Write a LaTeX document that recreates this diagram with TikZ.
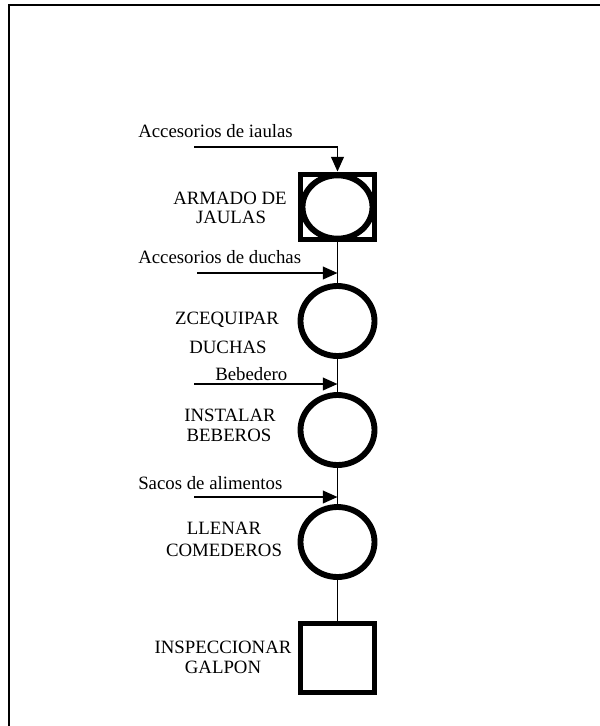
\documentclass[tikz,border=0pt]{standalone}
\usepackage{fontspec}
\setmainfont{Liberation Serif}
\usetikzlibrary{shapes.geometric,arrows.meta}
\begin{document}
\begin{tikzpicture}[x=0.75pt,y=-0.75pt,
  every node/.style={inner sep=0pt},
  lbl/.style={anchor=base,font=\fontsize{14.1}{17}\selectfont},
  lbll/.style={lbl,anchor=base west},
  sqbox/.style={draw,line width=4.4pt,rectangle,minimum width=55.5pt,minimum height=48.75pt},
  ring/.style={draw,line width=4.4pt,ellipse,minimum width=55.5pt,minimum height=52.5pt},
  innerring/.style={draw,line width=4.4pt,ellipse,minimum width=52.5pt,minimum height=47.5pt},
  link/.style={line width=1.4pt},
  feed/.style={line width=1.4pt,-{Triangle[length=11pt,width=9.5pt]}},
  frame/.style={line width=1.2pt}]
\useasboundingbox (0,0) rectangle (600,726);

% outer frame
\draw[frame] (9,726) -- (9,5) -- (600,5);

% operations
\node[sqbox] (s1) at (337.5,207) {};
\node[innerring] (c1) at (337.5,207) {};
\node[ring] (c2) at (337.5,321) {};
\node[ring] (c3) at (337.5,430) {};
\node[ring] (c4) at (337.5,542) {};
\node[sqbox,minimum height=51.75pt] (s2) at (337.5,658) {};

% flow line
\draw[link] (s1.south) -- (c2.north);
\draw[link] (c2.south) -- (c3.north);
\draw[link] (c3.south) -- (c4.north);
\draw[link] (c4.south) -- (s2.north);

% incoming materials
\coordinate (f1) at (194,147);
\coordinate (f2) at (197,273);
\coordinate (f3) at (194,384);
\coordinate (f4) at (194,497);
\draw[feed] (f1) -| (s1.north);
\draw[feed] (f2) -- (f2 -| c2.north);
\draw[feed] (f3) -- (f3 -| c2.north);
\draw[feed] (f4) -- (f4 -| c2.north);

\node[lbll] (t1) at (138,137) {Accesorios de iaulas};
\node[lbll] (t2) at (138,263) {Accesorios de duchas};
\node[lbll] (t3) at (215,380) {Bebedero};
\node[lbll] (t4) at (138,489) {Sacos de alimentos};

% operation labels
\node[lbl] (o1a) at (230,204) {ARMADO DE};
\node[lbl] (o1b) at (231,223) {JAULAS};
\node[lbl] (o2a) at (227,324) {ZCEQUIPAR};
\node[lbl] (o2b) at (228,353) {DUCHAS};
\node[lbl] (o3a) at (230,421) {INSTALAR};
\node[lbl] (o3b) at (229,441) {BEBEROS};
\node[lbl] (o4a) at (224,534) {LLENAR};
\node[lbl] (o4b) at (224,556) {COMEDEROS};
\node[lbl] (o5a) at (223,653) {INSPECCIONAR};
\node[lbl] (o5b) at (223,673) {GALPON};
\end{tikzpicture}
\end{document}
